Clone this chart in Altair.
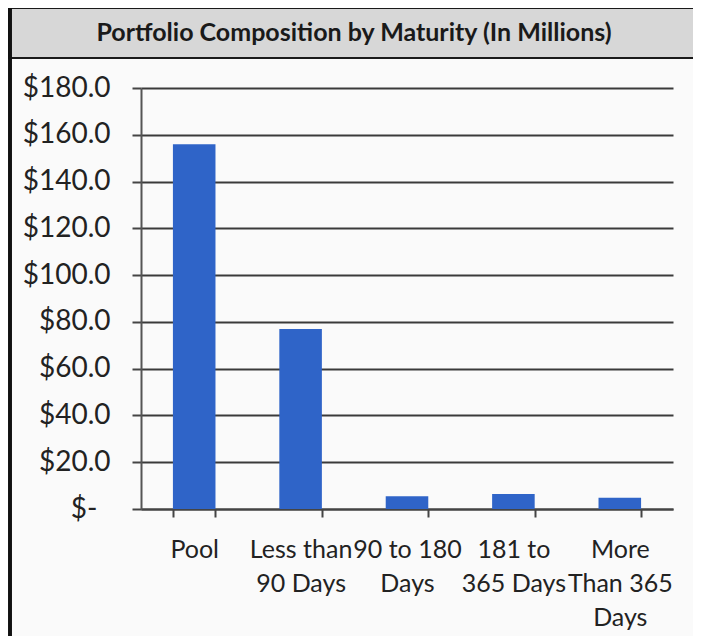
import altair as alt
import pandas as pd

categories = ["Pool", "Less than 90 Days", "90 to 180 Days", "181 to 365 Days", "More Than 365 Days"]
label_lines = ["Pool", "Less than|90 Days", "90 to 180|Days", "181 to|365 Days", "More|Than 365|Days"]
values = [156.0, 77.0, 5.4, 6.4, 4.8]
title_text = "Portfolio Composition by Maturity (In Millions)"

df = pd.DataFrame({"category": categories, "label": label_lines, "value": values})

FONT = "Lato"
W, H = 532, 421

label_expr = " : ".join(
    f"datum.label == '{c}' ? split('{l}', '|')" for c, l in zip(categories, label_lines)
) + " : datum.label"

bars = alt.Chart(df).mark_bar(color="#2f64c8", clip=False).encode(
    x=alt.X(
        "category:N",
        sort=categories,
        scale=alt.Scale(paddingInner=0.6, paddingOuter=0.3),
        axis=alt.Axis(
            title=None,
            labelAngle=0,
            labelExpr=label_expr,
            labelFont=FONT,
            labelFontSize=25,
            labelColor="#222222",
            labelLineHeight=34,
            labelPadding=20,
            labelBaseline="top",
            tickBand="extent",
            tickSize=8,
            tickWidth=2,
            tickColor="#444444",
            domainColor="#444444",
            domainWidth=2,
            grid=False,
        ),
    ),
    y=alt.Y(
        "value:Q",
        scale=alt.Scale(domain=[0, 180], nice=False),
        axis=alt.Axis(
            title=None,
            values=[0, 20, 40, 60, 80, 100, 120, 140, 160, 180],
            labelExpr="datum.value == 0 ? '$-' : '$' + format(datum.value, '.1f')",
            labelFont=FONT,
            labelFontSize=28,
            labelColor="#222222",
            labelPadding={"condition": {"test": "datum.value == 0", "value": 35}, "value": 22},
            tickSize=9,
            tickWidth=2,
            tickColor="#444444",
            domainColor="#555555",
            domainWidth=2,
            grid=True,
            gridColor="#3a3a3a",
            gridWidth=2,
            gridOpacity=1,
        ),
    ),
)

band = alt.Chart(df).mark_rect(
    fill="#d7d7d7", stroke="#1a1a1a", strokeWidth=2, clip=False
).encode(
    x=alt.value(-133), x2=alt.value(560), y=alt.value(-80), y2=alt.value(-30)
)

left_line = alt.Chart(df).mark_rule(color="#111111", strokeWidth=3, clip=False).encode(
    x=alt.value(-131), y=alt.value(-80), y2=alt.value(548)
)

title = alt.Chart(pd.DataFrame({"t": [title_text]})).mark_text(
    font=FONT, fontSize=25, fontWeight="bold", color="#1a1a1a",
    align="center", baseline="middle", clip=False
).encode(
    x=alt.value(213), y=alt.value(-55), text="t:N"
)

chart = alt.layer(band, left_line, bars, title).properties(
    width=W,
    height=H,
    padding={"left": 133, "top": 80, "right": 20, "bottom": 127},
    autosize=alt.AutoSizeParams(type="none"),
    background="#fafafa",
).configure_view(stroke=None)

chart.save("out.html", embed_options={"renderer": "svg", "actions": False})
